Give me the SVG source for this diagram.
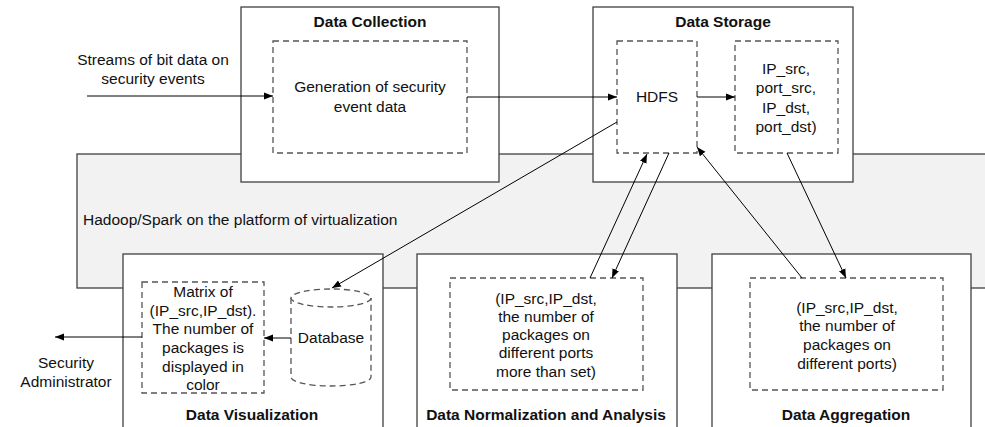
<svg xmlns="http://www.w3.org/2000/svg" width="985" height="427" viewBox="0 0 985 427">
  <defs>
    <marker id="arrow" markerUnits="userSpaceOnUse" markerWidth="10" markerHeight="10" refX="9" refY="4" orient="auto">
      <path d="M0,0.5 L9,4 L0,7.5 Z" fill="#000"/>
    </marker>
    <style>
      .box { fill: #fff; stroke: #404040; stroke-width: 1.3; }
      .platform { fill: #f2f2f2; stroke: #404040; stroke-width: 1.3; }
      .dash { fill: #fff; stroke: #555; stroke-width: 1.3; stroke-dasharray: 6 4; }
      .t { font-family: "Liberation Sans", Arial, sans-serif; font-size: 15.5px; fill: #111; text-anchor: middle; }
      .title { font-weight: bold; }
      .conn { fill: none; stroke: #000; stroke-width: 1; marker-end: url(#arrow); }
    </style>
  </defs>

  <!-- virtualization platform band -->
  <g id="platform">
    <rect class="platform" x="77" y="154" width="920" height="134"/>
    <text class="t" x="83" y="225" style="text-anchor:start">Hadoop/Spark on the platform of virtualization</text>
  </g>

  <!-- Data Collection -->
  <g id="data-collection">
    <rect class="box" x="241" y="7" width="258" height="175"/>
    <text class="t title" x="370" y="27">Data Collection</text>
    <rect class="dash" x="273" y="41" width="194" height="112"/>
    <text class="t" x="370" y="92">Generation of security</text>
    <text class="t" x="370" y="112">event data</text>
  </g>

  <!-- Data Storage -->
  <g id="data-storage">
    <rect class="box" x="593" y="7" width="260" height="175"/>
    <text class="t title" x="723" y="27">Data Storage</text>
    <g id="hdfs">
      <rect class="dash" x="617" y="41" width="80" height="112"/>
      <text class="t" x="657" y="102">HDFS</text>
    </g>
    <g id="tuple">
      <rect class="dash" x="735" y="41" width="103" height="112"/>
      <text class="t" x="786" y="73.5">IP_src,</text>
      <text class="t" x="786" y="93">port_src,</text>
      <text class="t" x="786" y="112.5">IP_dst,</text>
      <text class="t" x="786" y="132">port_dst)</text>
    </g>
  </g>

  <!-- Data Visualization -->
  <g id="data-visualization">
    <rect class="box" x="123" y="254" width="260" height="190"/>
    <g id="matrix">
      <rect class="dash" x="142" y="282" width="122" height="111"/>
      <text class="t" x="203" y="297">Matrix of</text>
      <text class="t" x="203" y="316">(IP_src,IP_dst).</text>
      <text class="t" x="203" y="334">The number of</text>
      <text class="t" x="203" y="353">packages is</text>
      <text class="t" x="203" y="372">displayed in</text>
      <text class="t" x="203" y="390">color</text>
    </g>
    <g id="database">
      <path class="dash" d="M291,298 L291,377 A40,9 0 0 0 371,377 L371,298"/>
      <ellipse class="dash" cx="331" cy="298" rx="40" ry="9"/>
      <text class="t" x="331" y="343">Database</text>
    </g>
    <text class="t title" x="252" y="420">Data Visualization</text>
  </g>

  <!-- Data Normalization and Analysis -->
  <g id="data-normalization">
    <rect class="box" x="417" y="254" width="260" height="190"/>
    <rect class="dash" x="450" y="278" width="193" height="112"/>
    <text class="t" x="546" y="304">(IP_src,IP_dst,</text>
    <text class="t" x="546" y="322">the number of</text>
    <text class="t" x="546" y="340">packages on</text>
    <text class="t" x="546" y="358">different ports</text>
    <text class="t" x="546" y="377">more than set)</text>
    <text class="t title" x="546" y="420">Data Normalization and Analysis</text>
  </g>

  <!-- Data Aggregation -->
  <g id="data-aggregation">
    <rect class="box" x="712" y="254" width="259" height="190"/>
    <rect class="dash" x="750" y="278" width="193" height="112"/>
    <text class="t" x="847" y="313">(IP_src,IP_dst,</text>
    <text class="t" x="847" y="331">the number of</text>
    <text class="t" x="847" y="350">packages on</text>
    <text class="t" x="847" y="369">different ports)</text>
    <text class="t title" x="846" y="420">Data Aggregation</text>
  </g>

  <!-- free labels -->
  <g id="source">
    <text class="t" x="153" y="65">Streams of bit data on</text>
    <text class="t" x="153" y="84">security events</text>
  </g>
  <g id="administrator">
    <text class="t" x="66" y="368">Security</text>
    <text class="t" x="66" y="387">Administrator</text>
  </g>

  <!-- connectors -->
  <g id="connectors">
    <line class="conn" x1="87" y1="96" x2="273" y2="96"/>
    <line class="conn" x1="467" y1="97" x2="617" y2="97"/>
    <line class="conn" x1="697" y1="97" x2="735" y2="97"/>
    <line class="conn" x1="617" y1="122" x2="332" y2="288"/>
    <line class="conn" x1="590" y1="278" x2="647" y2="154"/>
    <line class="conn" x1="669" y1="153" x2="612" y2="278"/>
    <line class="conn" x1="802" y1="278" x2="697" y2="147"/>
    <line class="conn" x1="787" y1="153" x2="846" y2="278"/>
    <line class="conn" x1="291" y1="338" x2="264" y2="338"/>
    <line class="conn" x1="142" y1="337" x2="55" y2="337"/>
  </g>
</svg>
